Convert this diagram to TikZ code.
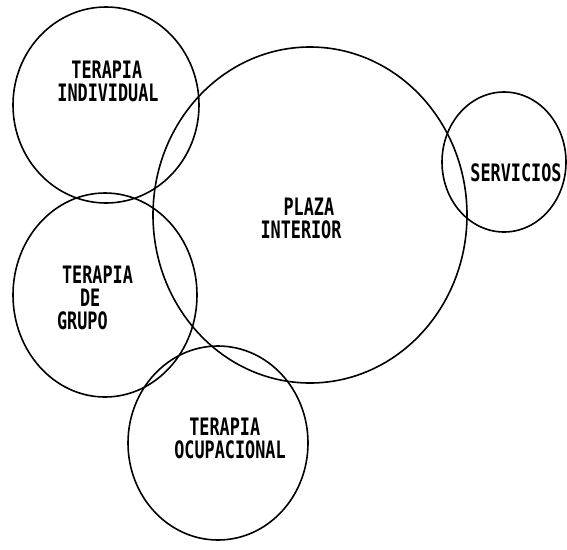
\documentclass[tikz,border=0pt]{standalone}
\usepackage{fontspec}
\usepackage{tikz}
\usetikzlibrary{
  positioning,
  shapes.geometric
}
\newfontfamily\lettering{DejaVu Sans Mono}[FakeStretch=0.70]

\begin{document}
\begin{tikzpicture}[
  x=1pt, y=-1pt,
  every node/.style={font=\lettering\bfseries\fontsize{24}{23}\selectfont},
  bubble/.style={draw=black, line width=1.6pt, ellipse, inner sep=0pt,
                 outer sep=0pt},
  zonelabel/.style={inner sep=0pt, align=left}
]
\useasboundingbox (0,0) rectangle (567,549);

\node[bubble, minimum width=186pt, minimum height=196pt] (indiv) at (106,105) {};
\node[bubble, minimum width=314pt, minimum height=336pt] (plaza) at (310,215) {};
\node[bubble, minimum width=124pt, minimum height=140pt] (serv) at (504,162) {};
\node[bubble, minimum width=184pt, minimum height=204pt] (grupo) at (105,295) {};
\node[bubble, minimum width=180pt, minimum height=194pt] (ocup) at (218,443) {};

\node[zonelabel] (indivtxt) at (108,81) {\hspace*{14pt}TERAPIA\\INDIVIDUAL};
\node[zonelabel] (plazatxt) at (301,218) {\hspace*{23pt}PLAZA\\INTERIOR};
\node[zonelabel] (servtxt) at (516,173) {SERVICIOS};
\node[zonelabel] (grupotxt) at (95,298)
  {\hspace*{5pt}TERAPIA\\\hspace*{23pt}DE\\GRUPO};
\node[zonelabel] (ocuptxt) at (230,438) {\hspace*{15pt}TERAPIA\\OCUPACIONAL};

\end{tikzpicture}
\end{document}
